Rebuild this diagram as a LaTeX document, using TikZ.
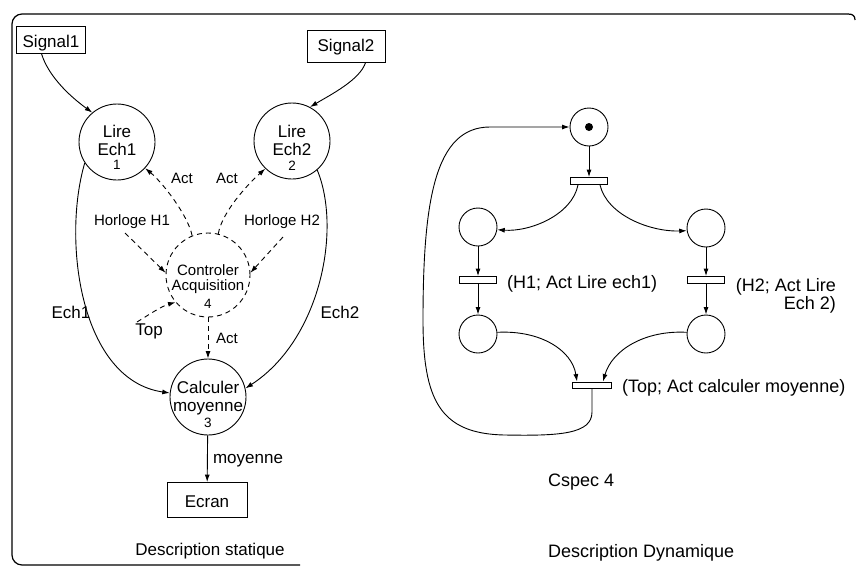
\documentclass[tikz,border=0pt]{standalone}
\usepackage{fontspec}
\setmainfont{Liberation Sans}
\usetikzlibrary{arrows.meta,calc}
\begin{document}
\begin{tikzpicture}[x=1pt,y=-1pt,
 ln/.style={line width=0.9pt},
 arr/.style={ln,-{Latex[length=7.5pt,width=5pt]}},
 dsh/.style={dash pattern=on 5pt off 4pt},
 circ/.style={draw,ln,circle,minimum size=76pt,inner sep=0pt},
 boxn/.style={draw,ln,rectangle,inner sep=0pt},
 place/.style={draw,ln,circle,minimum size=38pt,inner sep=0pt},
 trans/.style={draw,ln,fill=white,minimum width=37pt,minimum height=7pt,inner sep=0pt},
 fa/.style={font=\fontsize{17}{19}\selectfont,inner sep=0pt},
 fb/.style={font=\fontsize{15}{17}\selectfont,inner sep=0pt},
 fc/.style={font=\fontsize{13.5}{14}\selectfont,inner sep=0pt},
 fr/.style={font=\fontsize{18}{16}\selectfont,inner sep=0pt},
 frame/.style={line width=1.2pt}]
\useasboundingbox (0,0) rectangle (856,568);
% frame
\draw[frame,rounded corners=10pt] (300,565) -- (12,565) -- (12,14) -- (848,14);
\draw[frame] (848,14) .. controls (853,14) and (855,16) .. (855,20);

% ---- static description ----
\node[boxn,minimum width=69pt,minimum height=27pt] (sig1) at (51,40) {};
\node[fa,anchor=base] (sig1t) at (51,47) {Signal1};
\node[boxn,minimum width=78pt,minimum height=32pt] (sig2) at (346,46) {};
\node[fa,anchor=base] (sig2t) at (346,51) {Signal2};

\node[circ] (lire1) at (117,142) {};
\node[fa,anchor=base] (l1a) at (117,137) {Lire};
\node[fa,anchor=base] (l1b) at (117,155) {Ech1};
\node[fc,anchor=base] (l1c) at (117,169) {1};

\node[circ] (lire2) at (292,141) {};
\node[fa,anchor=base] (l2a) at (292,137) {Lire};
\node[fa,anchor=base] (l2b) at (292,155) {Ech2};
\node[fc,anchor=base] (l2c) at (292,170) {2};

\node[circ,dsh,minimum size=84pt] (ctrl) at (208,275) {};
\node[fb,anchor=base] (c1) at (208,275) {Controler};
\node[fb,anchor=base] (c2) at (208,290) {Acquisition};
\node[fc,anchor=base] (c3) at (208,308) {4};

\node[circ] (calc) at (208,397) {};
\node[fa,anchor=base] (k1) at (208,393) {Calculer};
\node[fa,anchor=base] (k2) at (208,411) {moyenne};
\node[fc,anchor=base] (k3) at (208,427) {3};

\node[boxn,minimum width=80pt,minimum height=35pt] (ecran) at (207,500) {};
\node[fa,anchor=base] (ecrant) at (207,507) {Ecran};

\node[fb,anchor=base] (act1) at (182,183) {Act};
\node[fb,anchor=base] (act2) at (227,183) {Act};
\node[fb,anchor=base] (h1) at (132,225) {Horloge H1};
\node[fb,anchor=base] (h2) at (282,225) {Horloge H2};
\node[fa,anchor=base] (ech1) at (71,318) {Ech1};
\node[fa,anchor=base] (ech2) at (340,318) {Ech2};
\node[fa,anchor=base] (top) at (149,335) {Top};
\node[fb,anchor=base] (act3) at (227,343) {Act};
\node[fa,anchor=base] (moy) at (248,463) {moyenne};
\node[fa,anchor=base] (dstat) at (210,555) {Description statique};

\coordinate (hc1) at (125,233);
\coordinate (hc2) at (283,237);
\coordinate (topc) at (137,322);

\draw[arr] (sig1.-124) .. controls (48,75) and (68,95) .. (lire1.130);
\draw[arr] (sig2.-40) .. controls (360,80) and (330,95) .. (lire2.62);
\draw[arr,dsh] (ctrl.112) .. controls (188,215) and (162,182) .. (lire1.-43);
\draw[arr,dsh] (ctrl.76) .. controls (222,212) and (248,184) .. (lire2.-134);
\draw[arr,dsh] (hc1) -- (ctrl.177);
\draw[arr,dsh] (hc2) -- (ctrl.3);
\draw[arr,dsh] (topc) .. controls (150,314) and (162,306) .. (ctrl.-140);
\draw[arr,dsh] (ctrl) -- (calc);
\draw[arr] (lire1.-147) .. controls (62,240) and (80,380) .. (calc.174);
\draw[arr] (lire2.-49) .. controls (342,230) and (320,340) .. (calc.13);
\draw[arr] (calc) -- (ecran);

% ---- dynamic description ----
\node[place] (p0) at (589,127) {};
\node[circle,fill,minimum size=8pt,inner sep=0pt] (tok) at (589,127) {};
\node[trans] (t1) at (589,181) {};
\node[place] (p2) at (478,227) {};
\node[place] (p3) at (706,228) {};
\node[trans] (t2) at (478,280) {};
\node[trans] (t3) at (706,280) {};
\node[place] (p4) at (478,334) {};
\node[place] (p5) at (706,334) {};
\node[trans,minimum width=39pt,minimum height=6pt] (t4) at (592,385) {};

\draw[arr] (p0) -- (t1);
\draw[arr] ($(t1.south)+(-11,0)$) .. controls (572,215) and (530,232) .. (p2.-8);
\draw[arr] ($(t1.south)+(11,0)$) .. controls (607,215) and (650,232) .. (p3.188);
\draw[arr] (p2) -- (t2);
\draw[arr] (t2) -- (p4);
\draw[arr] (p3) -- (t3);
\draw[arr] (t3) -- (p5);
\draw[arr] (p4.5) .. controls (540,330) and (572,350) .. ($(t4.north)+(-15,0)$);
\draw[arr] (p5.175) .. controls (645,330) and (612,350) .. ($(t4.north)+(11,0)$);
\draw[arr] (t4.south) -- (592,412) .. controls (592,434) and (560,436) .. (505,435)
  .. controls (440,434) and (423,400) .. (423,320)
  .. controls (423,200) and (435,127) .. (490,127) -- (p0);
\node[trans] at (t1) {};
\node[trans] at (t2) {};
\node[trans] at (t3) {};

\node[fr,anchor=base west] (lab1) at (507,288) {(H1; Act Lire ech1)};
\node[fr,anchor=base east] (lab2a) at (836,291) {(H2; Act Lire};
\node[fr,anchor=base east] (lab2b) at (836,309) {Ech 2)};
\node[fr,anchor=base west] (lab3) at (622,392) {(Top; Act calculer moyenne)};
\node[fr,anchor=base west] (cspec) at (548,486) {Cspec 4};
\node[fr,anchor=base west] (ddyn) at (548,557) {Description Dynamique};
\end{tikzpicture}
\end{document}
